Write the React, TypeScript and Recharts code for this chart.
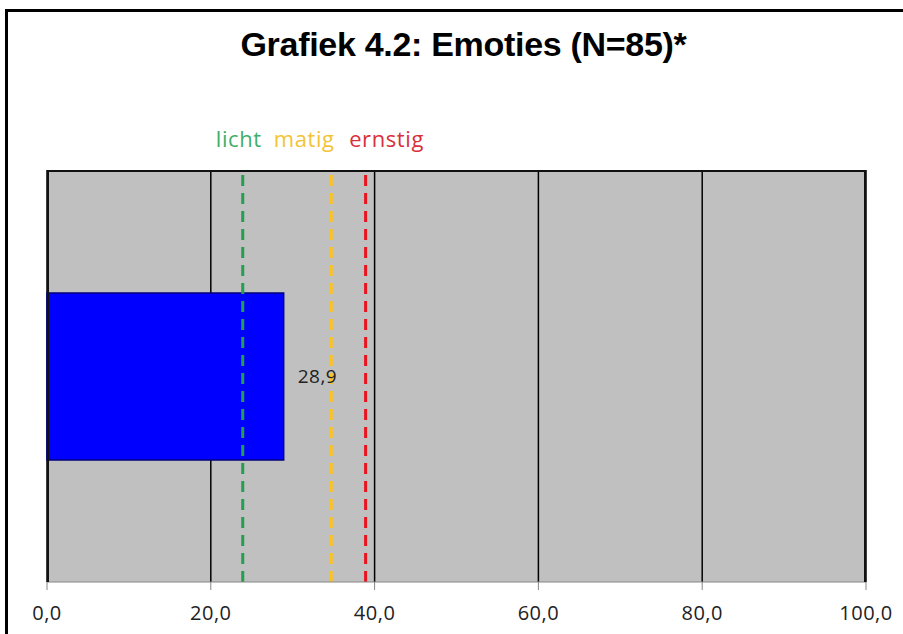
import { Bar, BarChart, CartesianGrid, LabelList, ReferenceLine, XAxis, YAxis } from "recharts";

const categories = ["Emoties"];
const scores = [28.9];
const xTicks = [0, 20, 40, 60, 80, 100];
const thresholdNames = ["licht", "matig", "ernstig"];
const thresholdValues = [23.9, 34.7, 38.9];
const thresholdColors = ["#23a04f", "#ffc21a", "#e8141e"];
const thresholdLabelColors = ["#3fae68", "#f3c338", "#d8303c"];
const thresholdLabelShift = [-4, -27, 21];

const data = categories.map((name, i) => ({ name, value: scores[i] }));

const fmt = (v: number) => v.toFixed(1).replace(".", ",");
const font = "'Open Sans', 'Liberation Sans', sans-serif";

export default function App() {
  return (
    <div style={{ position: "fixed", left: 0, top: 0, width: 903, height: 634, background: "#fff" }}>
      <div
        style={{
          position: "absolute",
          left: 5,
          top: 9,
          width: 898,
          height: 625,
          borderTop: "3px solid #000",
          borderLeft: "3px solid #000",
          boxSizing: "border-box",
        }}
      />
      <div
        style={{
          position: "absolute",
          left: 0,
          width: 903,
          top: 25,
          textAlign: "center",
          fontFamily: "'Liberation Sans', Arial, sans-serif",
          fontWeight: "bold",
          fontSize: 34,
          letterSpacing: -0.3,
          color: "#000",
          paddingLeft: 24,
          boxSizing: "border-box",
        }}
      >
        Grafiek 4.2: Emoties (N=85)*
      </div>
      <div style={{ position: "absolute", left: 0, top: 0 }}>
        <BarChart
          width={903}
          height={634}
          data={data}
          layout="vertical"
          margin={{ top: 170, right: 37, bottom: 12, left: 47 }}
        >
          <CartesianGrid horizontal={false} vertical stroke="#000" strokeWidth={1.5} fill="#c0c0c0" />
          <XAxis
            type="number"
            domain={[0, 100]}
            ticks={xTicks}
            tickFormatter={fmt}
            height={40}
            tickSize={8}
            tickMargin={16}
            stroke="#868686"
            tick={{ fill: "#222", fontSize: 20, fontFamily: font, letterSpacing: 0.5 }}
          />
          <YAxis type="category" dataKey="name" hide />
          <Bar dataKey="value" fill="#0000ff" stroke="#00007a" strokeWidth={1.5} barSize={167} isAnimationActive={false}>
            <LabelList
              dataKey="value"
              position="right"
              offset={14}
              formatter={(v: any) => fmt(Number(v))}
              style={{ fill: "#222", fontSize: 19, fontFamily: font, letterSpacing: 0.5 }}
            />
          </Bar>
          {thresholdValues.map((v, i) => (
            <ReferenceLine
              key={thresholdNames[i]}
              x={v}
              stroke={thresholdColors[i]}
              strokeWidth={3}
              strokeDasharray="11 7"
              label={{
                value: thresholdNames[i],
                position: "top",
                offset: 23,
                dx: thresholdLabelShift[i],
                fill: thresholdLabelColors[i],
                fontSize: 22,
                fontFamily: font,
                letterSpacing: 0.6,
              }}
            />
          ))}
        </BarChart>
      </div>
      <div
        style={{
          position: "absolute",
          left: 47,
          top: 170,
          width: 819,
          height: 412,
          borderTop: "2px solid #111",
          borderLeft: "2px solid #111",
          borderRight: "2px solid #111",
          boxSizing: "border-box",
          pointerEvents: "none",
        }}
      />
    </div>
  );
}
